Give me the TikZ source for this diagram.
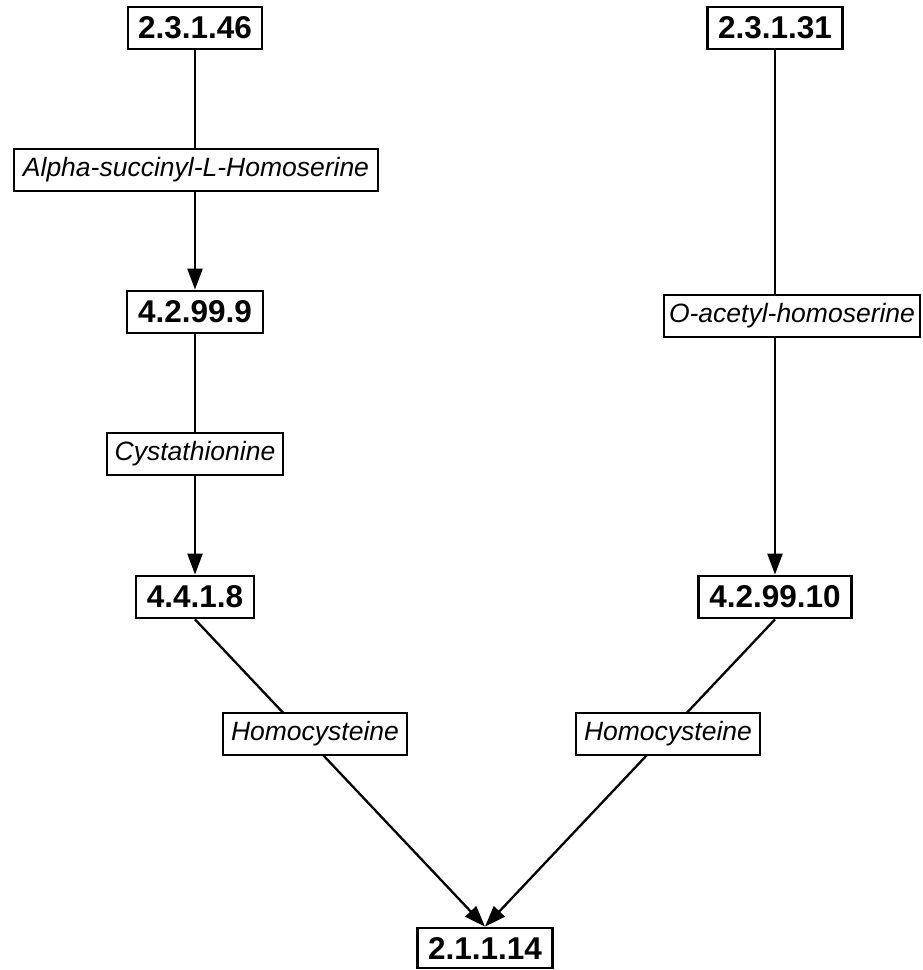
\documentclass[tikz,border=0pt]{standalone}
\usepackage{fontspec}
\setmainfont{Liberation Sans}
\usetikzlibrary{arrows.meta}
\begin{document}
\begin{tikzpicture}[x=1pt,y=-1pt,
  enzyme/.style={draw=black, line width=2.8pt, fill=white, inner sep=0pt,
    font=\fontsize{31.5}{31.5}\selectfont\bfseries, minimum height=42pt},
  metab/.style={draw=black, line width=1.2pt, fill=white, inner sep=0pt,
    font=\fontsize{26.5}{26.5}\selectfont\itshape, minimum height=42pt},
  flow/.style={line width=2.3pt, -{Triangle[length=21pt,width=15pt]}}]
\useasboundingbox (0,0) rectangle (922,970);
\fill[white] (0,0) rectangle (922,970);
% enzymes
\node[enzyme, minimum width=134pt] (e1) at (195,28) {2.3.1.46};
\node[enzyme, minimum width=135pt] (e2) at (775,28) {2.3.1.31};
\node[enzyme, minimum width=136pt] (e3) at (195,312) {4.2.99.9};
\node[enzyme, minimum width=118pt] (e4) at (195,597) {4.4.1.8};
\node[enzyme, minimum width=153pt] (e6) at (775,597) {4.2.99.10};
\node[enzyme, minimum width=135pt, minimum height=40pt] (e5) at (485,948) {2.1.1.14};
% connectors
\draw[flow] (e1.south) -- (e3.north);
\draw[flow] (e3.south) -- (e4.north);
\draw[flow] (e2.south) -- (e6.north);
\draw[flow] (e4.south) -- (e5.north);
\draw[flow] (e6.south) -- (e5.north);
% metabolite labels
\node[metab, minimum width=364pt] (m1) at (196,170) {Alpha-succinyl-L-Homoserine};
\node[metab, minimum width=176pt] (m2) at (195,454) {Cystathionine};
\node[metab, minimum width=256pt] (m3) at (792,316) {O-acetyl-homoserine};
\node[metab, minimum width=184pt] (m4) at (315,734) {Homocysteine};
\node[metab, minimum width=184pt] (m5) at (668,734) {Homocysteine};
\end{tikzpicture}
\end{document}
